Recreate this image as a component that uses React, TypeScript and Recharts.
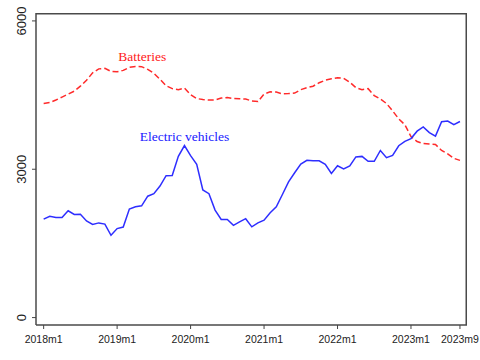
import React from 'react';
import { LineChart, Line, XAxis, YAxis, ReferenceDot, CartesianGrid } from 'recharts';

const startYear = 2018;
const monthLabels: string[] = [];
for (let k = 0; k < 69; k++) {
  monthLabels.push(`${startYear + Math.floor(k / 12)}m${(k % 12) + 1}`);
}

const electricVehicles = [
  1990, 2050, 2025, 2025, 2160, 2085, 2090, 1955, 1885, 1915, 1890, 1665,
  1800, 1830, 2195, 2240, 2260, 2455, 2505, 2660, 2870, 2875, 3260, 3480,
  3275, 3100, 2580, 2505, 2175, 1985, 1985, 1865, 1935, 2000, 1835, 1915,
  1970, 2120, 2240, 2490, 2745, 2930, 3105, 3180, 3170, 3170, 3100, 2915,
  3070, 3005, 3065, 3250, 3260, 3160, 3160, 3380, 3235, 3280, 3475, 3565,
  3620, 3770, 3855, 3740, 3670, 3960, 3975, 3900, 3965,
];

const batteries = [
  4330, 4350, 4400, 4460, 4520, 4580, 4680, 4800, 4950, 5030, 5040, 4980,
  4970, 5000, 5060, 5080, 5075, 5020, 4940, 4820, 4690, 4630, 4610, 4640,
  4510, 4430, 4410, 4400, 4400, 4440, 4450, 4430, 4425, 4420, 4380, 4370,
  4520, 4565, 4560, 4525, 4530, 4540, 4610, 4650, 4680, 4750, 4800, 4830,
  4850, 4840, 4760, 4650, 4610, 4630, 4490, 4420, 4330, 4180, 4020, 3900,
  3660, 3560, 3520, 3510, 3500, 3380, 3310, 3220, 3180,
];

const xTickIndices = [0, 12, 24, 36, 48, 60, 68];
const yTicks = [0, 3000, 6000];

const data = monthLabels.map((m, i) => ({
  i,
  month: m,
  ev: electricVehicles[i],
  bat: batteries[i],
}));

const XTick = (props: any) => {
  const { x, y, payload } = props;
  return (
    <text x={x} y={y + 12} textAnchor="middle" style={{ fontFamily: "Arial, 'Liberation Sans', sans-serif", fontSize: 10.5 }} fill="#222">
      {monthLabels[payload.value]}
    </text>
  );
};

const YTick = (props: any) => {
  const { x, y, payload } = props;
  const tx = x - 3.5;
  return (
    <text
      x={tx}
      y={y}
      transform={`rotate(-90, ${tx}, ${y})`}
      textAnchor="middle"
      style={{ fontFamily: "Arial, 'Liberation Sans', sans-serif", fontSize: 13 }}
      fill="#222"
    >
      {payload.value}
    </text>
  );
};

const makeLabel = (text: string, color: string) => (props: any) => (
  <text
    x={props.cx}
    y={props.cy}
    textAnchor="middle"
    style={{ fontFamily: "'Liberation Serif', 'Times New Roman', 'DejaVu Serif', serif", fontSize: 13.5 }}
    fill={color}
  >
    {text}
  </text>
);

const boxStroke = '#4a4a4a';
const W = 480;
const H = 360;
const M = { top: 13, right: 13, bottom: 0, left: 0 };
const X_AXIS_H = 35;
const Y_AXIS_W = 36;

export default function App() {
  return (
    <div style={{ position: 'absolute', left: 0, top: 0, background: '#fff' }}>
      <LineChart width={W} height={H} data={data} margin={M}>
        <CartesianGrid
          stroke={boxStroke}
          strokeWidth={1.5}
          horizontalPoints={[M.top + 0.75]}
          verticalPoints={[W - M.right - 0.75]}
        />
        <XAxis
          dataKey="i"
          type="number"
          domain={[-1.25, 69.15]}
          ticks={xTickIndices}
          allowDataOverflow
          height={X_AXIS_H}
          axisLine={{ stroke: boxStroke, strokeWidth: 1.5 }}
          tickLine={{ stroke: '#444' }}
          tickSize={4}
          tick={<XTick />}
          interval={0}
        />
        <YAxis
          type="number"
          domain={[-150, 6160]}
          ticks={yTicks}
          allowDataOverflow
          width={Y_AXIS_W}
          axisLine={{ stroke: boxStroke, strokeWidth: 1.5 }}
          tickLine={{ stroke: '#444' }}
          tickSize={4}
          tick={<YTick />}
          interval={0}
        />
        <Line dataKey="bat" stroke="#ff2a2a" strokeWidth={1.5} strokeDasharray="6 3" dot={false} isAnimationActive={false} />
        <Line dataKey="ev" stroke="#2e2eff" strokeWidth={1.5} dot={false} isAnimationActive={false} />
        <ReferenceDot x={16.1} y={5190} r={0} shape={makeLabel('Batteries', '#ff2020')} ifOverflow="visible" />
        <ReferenceDot x={23.0} y={3577} r={0} shape={makeLabel('Electric vehicles', '#2020ff')} ifOverflow="visible" />
      </LineChart>
    </div>
  );
}
